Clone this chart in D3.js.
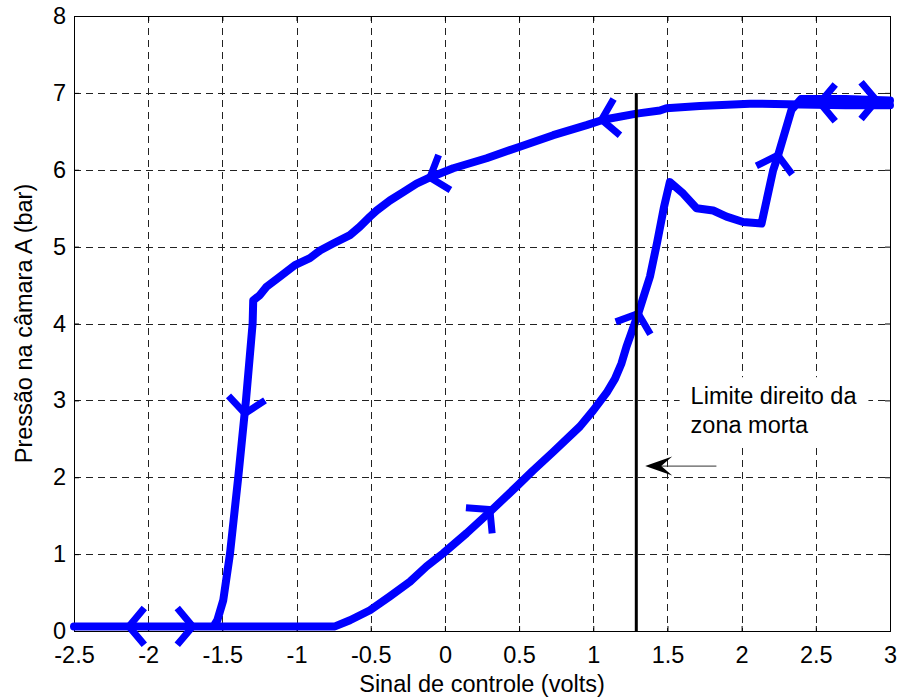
<!DOCTYPE html>
<html>
<head>
<meta charset="utf-8">
<script src="https://cdnjs.cloudflare.com/ajax/libs/d3/7.8.5/d3.min.js"></script>
<style>
  body { margin: 0; background: #fff; }
  text { font-family: "Liberation Sans", Arial, sans-serif; }
</style>
</head>
<body>
<div id="chart"></div>
<script>
// trajectory of the pressure (bar) vs control signal (volts), in time order
var sinalX = [3.0, 2.7, 2.4, 2.055, 1.718, 1.493, 1.449, 1.292, 1.067, 0.955, 0.73, 0.505, 0.281, 0.056,
  -0.101, -0.191, -0.281, -0.371, -0.46, -0.505, -0.573, -0.64, -0.753, -0.842, -0.91, -1.011, -1.112,
  -1.201, -1.247, -1.292, -1.296, -1.341, -1.393, -1.449, -1.494, -1.534, -1.56, -2.5,
  -2.5, -0.741, -0.64, -0.505, -0.371, -0.236, -0.124, -0.012, 0.145, 0.303, 0.483, 0.595, 0.73, 0.91,
  1.0, 1.09, 1.146, 1.19, 1.224, 1.303, 1.382, 1.43, 1.475, 1.516, 1.606, 1.696, 1.808, 1.898, 2.01, 2.134,
  2.212, 2.246, 2.336, 2.40, 2.7, 3.0];
var pressaoY = [6.84, 6.84, 6.85, 6.86, 6.83, 6.80, 6.77, 6.73, 6.65, 6.58, 6.45, 6.30, 6.15, 6.02,
  5.90, 5.82, 5.71, 5.60, 5.47, 5.39, 5.26, 5.15, 5.04, 4.95, 4.85, 4.76, 4.61,
  4.48, 4.37, 4.30, 4.0, 3.0, 2.0, 1.0, 0.40, 0.14, 0.06, 0.06,
  0.06, 0.06, 0.14, 0.27, 0.45, 0.64, 0.84, 1.01, 1.27, 1.55, 1.88, 2.09, 2.33, 2.66,
  2.87, 3.10, 3.28, 3.48, 3.70, 4.13, 4.61, 5.05, 5.50, 5.84, 5.69, 5.50, 5.47, 5.39, 5.32, 5.30,
  5.99, 6.19, 6.78, 6.92, 6.92, 6.90];

// direction arrows: tip and a point behind it on the curve
var setaTipX = [-2.13, -1.70, -1.348, 0.303, 1.303, 2.244, 2.527, 2.909, 1.056, -0.101];
var setaTipY = [0.06, 0.06, 2.83, 1.58, 4.13, 6.19, 6.87, 6.90, 6.65, 5.90];
var setaDeX = [-1.9, -2.0, -1.30, 0.145, 1.224, 2.134, 2.8, 2.6, 1.292, 0.281];
var setaDeY = [0.06, 0.06, 3.6, 1.27, 3.70, 5.30, 6.87, 6.90, 6.73, 6.15];

// dead zone limit
var limiteX = 1.29;
var limiteY = [0, 7];
var notaTexto = ['Limite direito da', 'zona morta'];
var notaX = 1.656, notaY = [2.95, 2.57];
var notaSetaX = [1.83, 1.35], notaSetaY = 2.145;

var xTicks = [-2.5, -2, -1.5, -1, -0.5, 0, 0.5, 1, 1.5, 2, 2.5, 3];
var yTicks = [0, 1, 2, 3, 4, 5, 6, 7, 8];

var W = 900, H = 700;
var m = {left: 74, right: 10, top: 16, bottom: 69};
var pw = W - m.left - m.right, ph = H - m.top - m.bottom;
var fs = 23.5;

var svg = d3.select('#chart').append('svg')
  .attr('width', W).attr('height', H);

var x = d3.scaleLinear().domain([-2.5, 3]).range([m.left, m.left + pw]);
var y = d3.scaleLinear().domain([0, 8]).range([m.top + ph, m.top]);

// grid
var grid = svg.append('g');
grid.selectAll('.gx').data(xTicks.slice(1, -1)).enter().append('line')
  .attr('x1', function(d){ return Math.round(x(d)) + 0.5; })
  .attr('x2', function(d){ return Math.round(x(d)) + 0.5; })
  .attr('y1', m.top).attr('y2', m.top + ph)
  .style('stroke', '#222').style('stroke-width', 1).style('stroke-dasharray', '7,5');
grid.selectAll('.gy').data(yTicks.slice(1, -1)).enter().append('line')
  .attr('y1', function(d){ return Math.round(y(d)) + 0.5; })
  .attr('y2', function(d){ return Math.round(y(d)) + 0.5; })
  .attr('x1', m.left).attr('x2', m.left + pw)
  .style('stroke', '#222').style('stroke-width', 1).style('stroke-dasharray', '7,5');

// axes (ticks inside, box on)
var xAxis = svg.append('g').attr('transform', 'translate(0,' + (m.top + ph) + ')')
  .call(d3.axisBottom(x).tickValues(xTicks).tickSizeInner(-5).tickSizeOuter(0)
    .tickFormat(function(d){ return String(d); }));
var yAxis = svg.append('g').attr('transform', 'translate(' + m.left + ',0)')
  .call(d3.axisLeft(y).tickValues(yTicks).tickSizeInner(-5).tickSizeOuter(0).tickPadding(8));
svg.append('g').attr('transform', 'translate(0,' + m.top + ')')
  .call(d3.axisTop(x).tickValues(xTicks).tickSizeInner(-5).tickSizeOuter(0).tickFormat(''));
svg.append('g').attr('transform', 'translate(' + (m.left + pw) + ',0)')
  .call(d3.axisRight(y).tickValues(yTicks).tickSizeInner(-5).tickSizeOuter(0).tickFormat(''));
svg.selectAll('.domain').remove();
svg.selectAll('.tick text').style('font-size', fs + 'px').style('fill', '#000')
  .style('font-family', '"Liberation Sans", Arial, sans-serif');
svg.selectAll('.tick line').style('stroke', '#000');
xAxis.selectAll('.tick text').attr('dy', '0.71em').attr('y', 15);

svg.append('rect')
  .attr('x', m.left + 0.5).attr('y', m.top + 0.5)
  .attr('width', pw).attr('height', ph)
  .style('fill', 'none').style('stroke', '#000').style('stroke-width', 1);

// the curve
var pts = sinalX.map(function(d, i){ return [d, pressaoY[i]]; });
var line = d3.line().x(function(d){ return x(d[0]); }).y(function(d){ return y(d[1]); });
svg.append('path').datum(pts)
  .attr('d', line)
  .style('fill', 'none').style('stroke', '#0000ff')
  .style('stroke-width', 8).style('stroke-linejoin', 'round').style('stroke-linecap', 'round');

// chevron arrows on the curve
var armLen = 24, half = 50 * Math.PI / 180;
setaTipX.forEach(function(tx, i){
  var px = x(tx), py = y(setaTipY[i]);
  var bx = x(setaDeX[i]), by = y(setaDeY[i]);
  var a = Math.atan2(by - py, bx - px);
  var a1 = a + half, a2 = a - half;
  var d = 'M' + (px + armLen * Math.cos(a1)) + ',' + (py + armLen * Math.sin(a1)) +
          'L' + px + ',' + py +
          'L' + (px + armLen * Math.cos(a2)) + ',' + (py + armLen * Math.sin(a2));
  svg.append('path').attr('d', d)
    .style('fill', 'none').style('stroke', '#0000ff').style('stroke-width', 7)
    .style('stroke-linejoin', 'miter');
});

// dead zone line
svg.append('line')
  .attr('x1', x(limiteX)).attr('x2', x(limiteX))
  .attr('y1', y(limiteY[0])).attr('y2', y(limiteY[1]))
  .style('stroke', '#000').style('stroke-width', 3);

// annotation (text box has a white background)
var nota = svg.append('g');
var notaTxt = nota.selectAll('.nota').data(notaTexto).enter().append('text')
  .attr('x', x(notaX)).attr('y', function(d, i){ return y(notaY[i]); })
  .style('font-size', fs + 'px').text(function(d){ return d; });
var bb = nota.node().getBBox();
nota.insert('rect', 'text')
  .attr('x', bb.x - 11).attr('y', bb.y - 6)
  .attr('width', bb.width + 22).attr('height', bb.height + 12)
  .style('fill', '#fff');

var ax0 = x(notaSetaX[0]), ax1 = x(notaSetaX[1]), ay = y(notaSetaY);
svg.append('line').attr('x1', ax0).attr('x2', ax1 + 10).attr('y1', ay).attr('y2', ay)
  .style('stroke', '#333').style('stroke-width', 1);
svg.append('path')
  .attr('d', 'M' + ax1 + ',' + ay + 'L' + (ax1 + 27) + ',' + (ay - 9.5) +
             'L' + (ax1 + 16) + ',' + ay + 'L' + (ax1 + 27) + ',' + (ay + 9.5) + 'Z')
  .style('fill', '#000');

// axis labels
svg.append('text')
  .attr('x', m.left + pw / 2).attr('y', 692)
  .attr('text-anchor', 'middle').style('font-size', fs + 'px')
  .text('Sinal de controle (volts)');
svg.append('text')
  .attr('transform', 'translate(32,' + (m.top + ph / 2) + ') rotate(-90)')
  .attr('text-anchor', 'middle').style('font-size', fs + 'px')
  .text('Pressão na câmara A (bar)');
</script>
</body>
</html>
